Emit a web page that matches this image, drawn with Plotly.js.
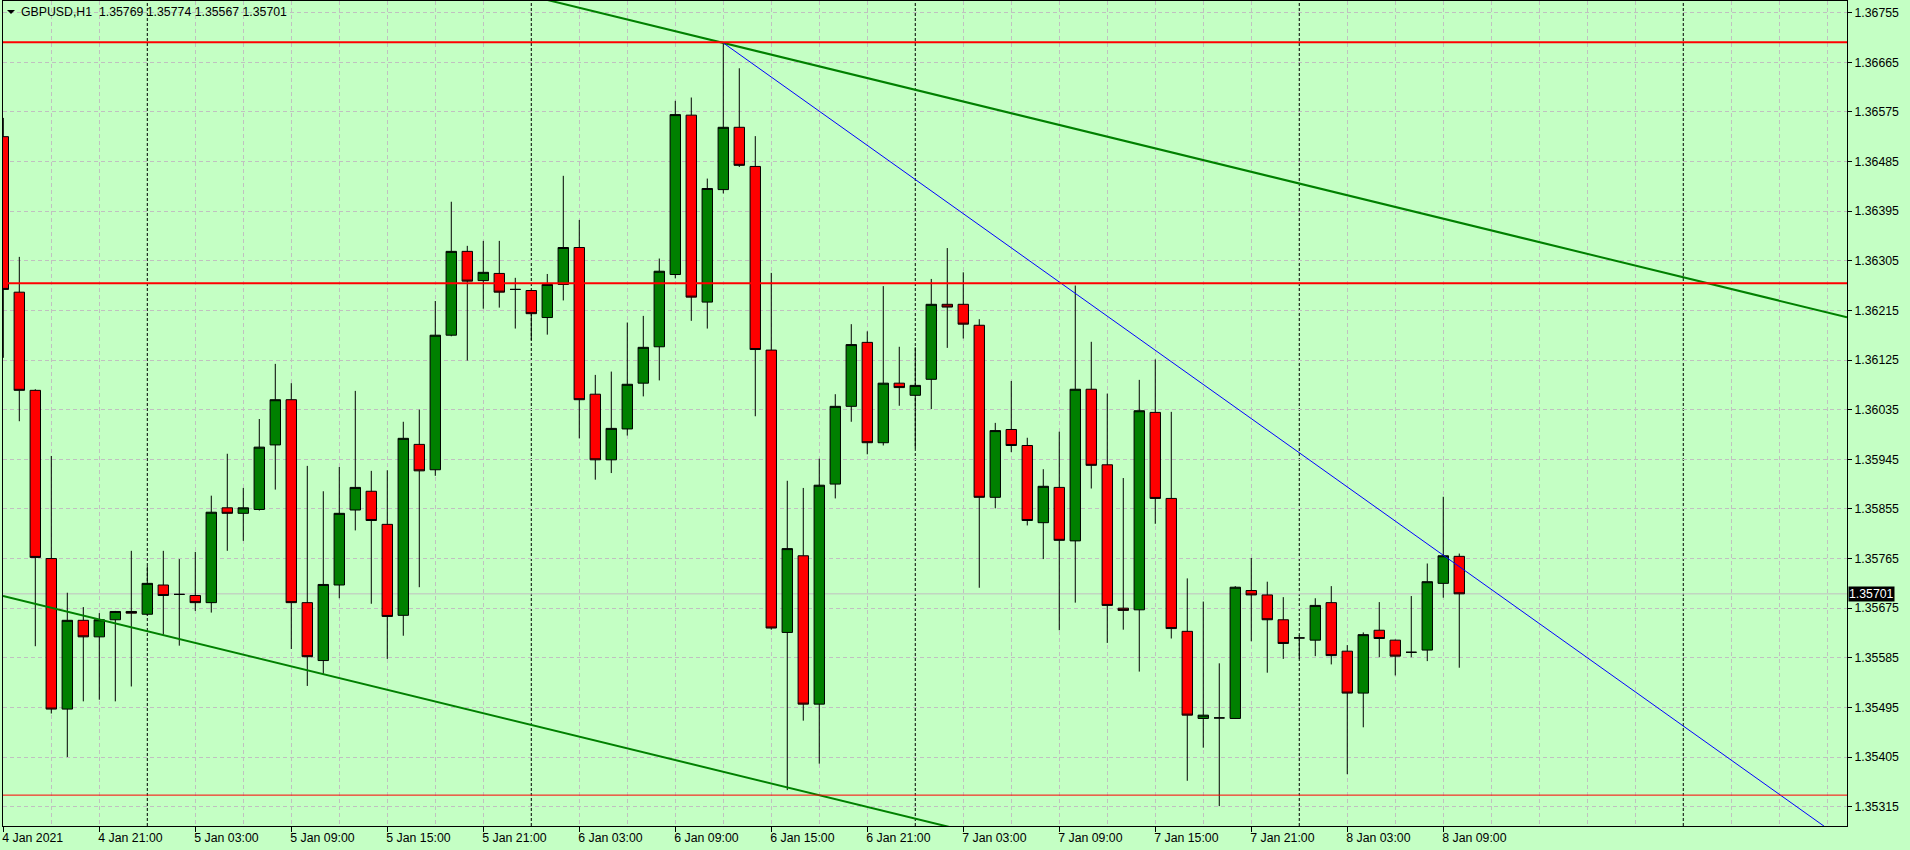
<!DOCTYPE html>
<html><head><meta charset="utf-8">
<script src="https://cdn.plot.ly/plotly-3.0.1.min.js"></script>
<style>html,body{margin:0;padding:0;background:#C4FFC4;overflow:hidden}#chart{width:1910px;height:850px}</style>
</head><body><div id="chart"></div>
<script>
const symbolName = 'GBPUSD,H1';

const times = [
'2021-01-04 15:00','2021-01-04 16:00','2021-01-04 17:00','2021-01-04 18:00','2021-01-04 19:00','2021-01-04 20:00','2021-01-04 21:00','2021-01-04 22:00','2021-01-04 23:00',
'2021-01-05 00:00','2021-01-05 01:00','2021-01-05 02:00','2021-01-05 03:00','2021-01-05 04:00','2021-01-05 05:00','2021-01-05 06:00','2021-01-05 07:00','2021-01-05 08:00','2021-01-05 09:00','2021-01-05 10:00','2021-01-05 11:00','2021-01-05 12:00','2021-01-05 13:00','2021-01-05 14:00','2021-01-05 15:00','2021-01-05 16:00','2021-01-05 17:00','2021-01-05 18:00','2021-01-05 19:00','2021-01-05 20:00','2021-01-05 21:00','2021-01-05 22:00','2021-01-05 23:00',
'2021-01-06 00:00','2021-01-06 01:00','2021-01-06 02:00','2021-01-06 03:00','2021-01-06 04:00','2021-01-06 05:00','2021-01-06 06:00','2021-01-06 07:00','2021-01-06 08:00','2021-01-06 09:00','2021-01-06 10:00','2021-01-06 11:00','2021-01-06 12:00','2021-01-06 13:00','2021-01-06 14:00','2021-01-06 15:00','2021-01-06 16:00','2021-01-06 17:00','2021-01-06 18:00','2021-01-06 19:00','2021-01-06 20:00','2021-01-06 21:00','2021-01-06 22:00','2021-01-06 23:00',
'2021-01-07 00:00','2021-01-07 01:00','2021-01-07 02:00','2021-01-07 03:00','2021-01-07 04:00','2021-01-07 05:00','2021-01-07 06:00','2021-01-07 07:00','2021-01-07 08:00','2021-01-07 09:00','2021-01-07 10:00','2021-01-07 11:00','2021-01-07 12:00','2021-01-07 13:00','2021-01-07 14:00','2021-01-07 15:00','2021-01-07 16:00','2021-01-07 17:00','2021-01-07 18:00','2021-01-07 19:00','2021-01-07 20:00','2021-01-07 21:00','2021-01-07 22:00','2021-01-07 23:00',
'2021-01-08 00:00','2021-01-08 01:00','2021-01-08 02:00','2021-01-08 03:00','2021-01-08 04:00','2021-01-08 05:00','2021-01-08 06:00','2021-01-08 07:00','2021-01-08 08:00','2021-01-08 09:00','2021-01-08 10:00'
];

const openP = [
1.36530,1.36248,1.36070,1.35765,1.35492,1.35653,1.35623,1.35654,1.35669,
1.35664,1.35717,1.35700,1.35698,1.35685,1.35857,1.35847,1.35854,1.35971,1.36053,1.35685,1.35580,1.35717,1.35853,1.35887,1.35827,1.35662,1.35972,1.35926,1.36170,1.36322,1.36269,1.36282,1.36253,
1.36251,1.36202,1.36262,1.36329,1.36063,1.35944,1.36000,1.36083,1.36149,1.36280,1.36569,1.36230,1.36434,1.36547,1.36476,1.36143,1.35631,1.35770,1.35501,1.35900,1.36041,1.36157,1.35975,1.36083,
1.36061,1.36090,1.36226,1.36226,1.36188,1.35876,1.35999,1.35970,1.35830,1.35894,1.35797,1.36072,1.35935,1.35675,1.35672,1.36030,1.35874,1.35633,1.35475,1.35476,1.35475,1.35707,1.35699,1.35654,
1.35621,1.35617,1.35685,1.35597,1.35521,1.35635,1.35617,1.35595,1.35599,1.35720,1.35769
];
const highP = [
1.36564,1.36312,1.36072,1.35951,1.35703,1.35677,1.35666,1.35670,1.35779,
1.35751,1.35779,1.35764,1.35777,1.35879,1.35955,1.35893,1.36018,1.36118,1.36083,1.35933,1.35887,1.35931,1.36069,1.35924,1.35925,1.36013,1.36035,1.36232,1.36412,1.36332,1.36341,1.36341,1.36274,
1.36252,1.36281,1.36459,1.36379,1.36098,1.36104,1.36193,1.36205,1.36309,1.36595,1.36601,1.36454,1.36700,1.36654,1.36531,1.36283,1.35906,1.35893,1.35946,1.36063,1.36190,1.36177,1.36259,1.36149,
1.36148,1.36272,1.36328,1.36284,1.36199,1.36011,1.36087,1.35984,1.35927,1.35995,1.36260,1.36158,1.36064,1.35911,1.36089,1.36126,1.36031,1.35729,1.35687,1.35575,1.35715,1.35766,1.35723,1.35695,
1.35626,1.35693,1.35715,1.35608,1.35631,1.35686,1.35618,1.35697,1.35756,1.35877,1.35774
];
const lowP = [
1.36129,1.36014,1.35606,1.35484,1.35405,1.35506,1.35509,1.35506,1.35533,
1.35662,1.35627,1.35607,1.35670,1.35667,1.35779,1.35797,1.35852,1.35890,1.35601,1.35534,1.35556,1.35693,1.35816,1.35683,1.35583,1.35625,1.35713,1.35915,1.36168,1.36124,1.36218,1.36220,1.36182,
1.36161,1.36171,1.36233,1.35983,1.35908,1.35920,1.35988,1.36059,1.36088,1.36273,1.36196,1.36182,1.36427,1.36475,1.36023,1.35636,1.35345,1.35471,1.35393,1.35874,1.36013,1.35954,1.35970,1.36042,
1.35965,1.36036,1.36147,1.36164,1.35712,1.35856,1.35958,1.35825,1.35764,1.35635,1.35685,1.35892,1.35612,1.35636,1.35560,1.35828,1.35620,1.35362,1.35422,1.35316,1.35474,1.35615,1.35558,1.35583,
1.35583,1.35588,1.35573,1.35374,1.35459,1.35586,1.35553,1.35586,1.35579,1.35694,1.35567
];
const closeP = [
1.36253,1.36070,1.35767,1.35492,1.35653,1.35623,1.35654,1.35669,1.35666,
1.35720,1.35698,1.35700,1.35685,1.35849,1.35847,1.35857,1.35967,1.36053,1.35685,1.35587,1.35718,1.35847,1.35894,1.35834,1.35660,1.35983,1.35924,1.36170,1.36322,1.36268,1.36284,1.36248,1.36253,
1.36209,1.36262,1.36329,1.36053,1.35944,1.36001,1.36081,1.36148,1.36286,1.36570,1.36239,1.36436,1.36547,1.36478,1.36144,1.35639,1.35783,1.35501,1.35898,1.36041,1.36153,1.35975,1.36083,1.36075,
1.36079,1.36226,1.36221,1.36190,1.35876,1.35997,1.35970,1.35834,1.35896,1.35798,1.36072,1.35934,1.35680,1.35671,1.36033,1.35874,1.35638,1.35481,1.35481,1.35476,1.35713,1.35699,1.35654,1.35611,
1.35621,1.35680,1.35589,1.35521,1.35627,1.35620,1.35588,1.35595,1.35723,1.35770,1.35701
];

const priceTicks = [1.36755,1.36665,1.36575,1.36485,1.36395,1.36305,1.36215,1.36125,1.36035,1.35945,1.35855,1.35765,1.35675,1.35585,1.35495,1.35405,1.35315];
const priceTickText = ['1.36755','1.36665','1.36575','1.36485','1.36395','1.36305','1.36215','1.36125','1.36035','1.35945','1.35855','1.35765','1.35675','1.35585','1.35495','1.35405','1.35315'];

const timeTicks = ['2021-01-04 15:00','2021-01-04 21:00','2021-01-05 03:00','2021-01-05 09:00','2021-01-05 15:00','2021-01-05 21:00','2021-01-06 03:00','2021-01-06 09:00','2021-01-06 15:00','2021-01-06 21:00','2021-01-07 03:00','2021-01-07 09:00','2021-01-07 15:00','2021-01-07 21:00','2021-01-08 03:00','2021-01-08 09:00'];
const timeTickText = ['4 Jan 2021','4 Jan 21:00','5 Jan 03:00','5 Jan 09:00','5 Jan 15:00','5 Jan 21:00','6 Jan 03:00','6 Jan 09:00','6 Jan 15:00','6 Jan 21:00','7 Jan 03:00','7 Jan 09:00','7 Jan 15:00','7 Jan 21:00','8 Jan 03:00','8 Jan 09:00'];

const daySeparators = ['2021-01-05 00:00','2021-01-06 00:00','2021-01-07 00:00','2021-01-08 00:00','2021-01-09 00:00'];

const levelPrices = [1.36701, 1.36264, 1.35336];
const levelWidths = [2, 2, 1];
const lastPrice = 1.35701;

const channelUpperTimes = ['2021-01-06 12:00','2021-01-09 00:00'];
const channelUpperPrices = [1.36700, 1.36275];
const channelLowerTimes = ['2021-01-04 15:00','2021-01-06 16:00'];
const channelLowerPrices = [1.35697, 1.35350];
const blueLineTimes = ['2021-01-06 12:00','2021-01-08 09:00'];
const blueLinePrices = [1.36700, 1.35771];

const X_START = '2021-01-04 14:58:53';
const X_END = '2021-01-09 10:14:00';
const Y_MIN = 1.35280, Y_MAX = 1.36776;

const BG = '#C4FFC4';
const GRID = '#C0C0C0';
const FONT = 'Liberation Sans, Arial, sans-serif';
const FS = 12.3;

function ms(s){ const [d,t]=s.split(' '); const [Y,M,D]=d.split('-').map(Number); const [h,m,sec]=(t+':0').split(':').map(Number); return Date.UTC(Y,M-1,D,h,m,sec||0); }
function fmt(v){ const d=new Date(v); const p=n=>String(n).padStart(2,'0'); return d.getUTCFullYear()+'-'+p(d.getUTCMonth()+1)+'-'+p(d.getUTCDate())+' '+p(d.getUTCHours())+':'+p(d.getUTCMinutes())+':'+p(d.getUTCSeconds()); }
// ray through two anchor points, extended from tFrom to tTo
function ray(ts, ps, tFrom, tTo){
  const t1=ms(ts[0]), t2=ms(ts[1]);
  const k=(ps[1]-ps[0])/(t2-t1);
  const a=ms(tFrom), b=ms(tTo);
  return {x:[fmt(a),fmt(b)], y:[ps[0]+k*(a-t1), ps[0]+k*(b-t1)]};
}

// vertical grid every 3 hours, except where day separators are drawn
const gridTimes = [];
for(let v=ms(times[0]); v<=ms(X_END); v+=3*3600000){
  if(new Date(v).getUTCHours()!==0) gridTimes.push(fmt(v));
}

const upper = ray(channelUpperTimes, channelUpperPrices, X_START, X_END);
const lower = ray(channelLowerTimes, channelLowerPrices, X_START, X_END);
const blue = ray(blueLineTimes, blueLinePrices, blueLineTimes[0], X_END);

const traces = [
  {type:'candlestick', x:times, open:openP, high:highP, low:lowP, close:closeP,
   increasing:{line:{color:'#000000',width:1}, fillcolor:'#008000'},
   decreasing:{line:{color:'#000000',width:1}, fillcolor:'#FF0000'},
   whiskerwidth:0, hoverinfo:'skip'},
  {type:'scatter', mode:'lines', x:upper.x, y:upper.y, line:{color:'#008000', width:2}, hoverinfo:'skip'},
  {type:'scatter', mode:'lines', x:lower.x, y:lower.y, line:{color:'#008000', width:2}, hoverinfo:'skip'},
  {type:'scatter', mode:'lines', x:blue.x, y:blue.y, line:{color:'#0000FF', width:1}, hoverinfo:'skip'}
];

const shapes = [];
daySeparators.forEach(t=>shapes.push({type:'line', xref:'x', yref:'paper', x0:t, x1:t, y0:0, y1:1, layer:'between', line:{color:'#000000', width:1, dash:'3px,2px'}}));
shapes.push({type:'line', xref:'paper', yref:'y', x0:0, x1:1, y0:lastPrice, y1:lastPrice, layer:'between', line:{color:'#C0C0C0', width:1}});
levelPrices.forEach((p,i)=>shapes.push({type:'line', xref:'paper', yref:'y', x0:0, x1:1, y0:p, y1:p, layer:'above', line:{color:'#FF0000', width:levelWidths[i]}}));
shapes.push({type:'path', xref:'paper', yref:'paper', xsizemode:'pixel', ysizemode:'pixel', xanchor:0, yanchor:1, path:'M 4,-9 L 12,-9 L 8,-13 Z', fillcolor:'#000000', line:{width:0}, layer:'above'});

const n = closeP.length-1;
const headline = symbolName + '\u00A0\u00A0' + [openP[n],highP[n],lowP[n],closeP[n]].map(v=>v.toFixed(5)).join(' ');

const annotations = [
  {xref:'paper', yref:'paper', x:0, y:1, xanchor:'left', yanchor:'top', xshift:16, yshift:-2, text:headline, showarrow:false, font:{family:FONT, size:FS, color:'#000'}},
  {xref:'paper', yref:'y', x:1, y:lastPrice, xanchor:'left', yanchor:'middle', xshift:1, text:lastPrice.toFixed(5), showarrow:false, bgcolor:'#000000', borderpad:0, font:{family:FONT, size:FS, color:'#FFFFFF'}}
];

const layout = {
  width:1910, height:850,
  margin:{l:3, r:63, t:1, b:24, pad:0},
  paper_bgcolor:BG, plot_bgcolor:BG,
  showlegend:false, hovermode:false,
  boxgap:0.35, boxgroupgap:0,
  font:{family:FONT, size:FS, color:'#000'},
  xaxis:{type:'date', range:[X_START, X_END], rangeslider:{visible:false}, fixedrange:true,
    tickmode:'array', tickvals:timeTicks, ticktext:timeTickText,
    ticks:'outside', ticklen:5, tickwidth:1, tickcolor:'#000',
    ticklabelposition:'outside right', ticklabelshift:-2,
    tickfont:{family:FONT, size:FS, color:'#000'},
    showgrid:false, zeroline:false, showline:true, linecolor:'#000', linewidth:1, mirror:true,
    minor:{tickmode:'array', tickvals:gridTimes, showgrid:true, gridcolor:GRID, gridwidth:1, griddash:'4px,3px', ticks:''}},
  yaxis:{side:'right', range:[Y_MIN, Y_MAX], fixedrange:true,
    tickmode:'array', tickvals:priceTicks, ticktext:priceTickText,
    ticks:'outside', ticklen:4, tickwidth:1, tickcolor:'#000',
    tickfont:{family:FONT, size:FS, color:'#000'},
    showgrid:true, gridcolor:GRID, gridwidth:1, griddash:'4px,3px',
    zeroline:false, showline:true, linecolor:'#000', linewidth:1, mirror:true},
  shapes:shapes, annotations:annotations
};

Plotly.newPlot('chart', traces, layout, {displayModeBar:false, staticPlot:true});
</script>
</body></html>
